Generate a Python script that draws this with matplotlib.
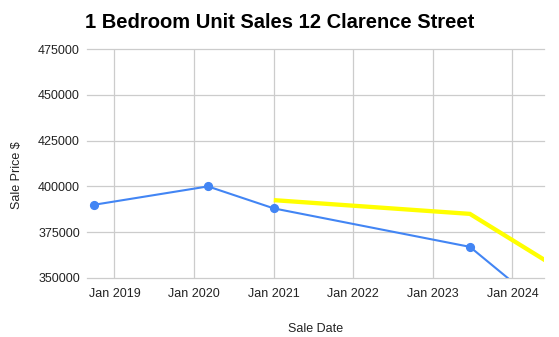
import matplotlib
matplotlib.use('Agg')
import matplotlib.pyplot as plt
import matplotlib.dates as mdates
import numpy as np

plt.rcParams.update({
    'font.family': ['Liberation Sans', 'DejaVu Sans'],
    'font.size': 9,
})

# sales (blue line with markers)
sale_dates = ['2018-10-01', '2020-03-05', '2021-01-01', '2023-06-20', '2024-04-01']
sale_prices = [390000, 400000, 388000, 367000, 339000]

# trend (yellow line)
trend_dates = ['2021-01-01', '2023-06-20', '2024-06-15']
trend_prices = [392500, 385000, 358500]

year_ticks = ['2019-01-01', '2020-01-01', '2021-01-01', '2022-01-01', '2023-01-01', '2024-01-01']
y_ticks = [350000, 375000, 400000, 425000, 450000, 475000]

sale_dates = np.array(sale_dates, dtype='datetime64[D]')
trend_dates = np.array(trend_dates, dtype='datetime64[D]')
year_ticks = np.array(year_ticks, dtype='datetime64[D]')

fig = plt.figure(figsize=(5.59, 3.37), dpi=100)
ax = fig.add_axes([87 / 559, 59 / 337, 457 / 559, 229 / 337])

ax.plot(trend_dates, trend_prices, color='#ffff00', linewidth=3.1,
        solid_capstyle='butt', solid_joinstyle='miter', zorder=3)
ax.plot(sale_dates, sale_prices, color='#4285f4', linewidth=1.5,
        marker='o', markersize=5.6, zorder=4)

ax.set_xlim(np.datetime64('2018-08-28'), np.datetime64('2024-05-25'))
ax.set_ylim(350000, 475000)
ax.set_xticks(year_ticks)
ax.xaxis.set_major_formatter(mdates.DateFormatter('Jan %Y'))
ax.set_yticks(y_ticks)

ax.grid(True, color='#cccccc', linewidth=0.9)
ax.set_axisbelow(True)
for gl in ax.get_ygridlines():
    gl.set_clip_on(False)
for s in ax.spines.values():
    s.set_visible(False)
ax.tick_params(length=0, colors='#222222', labelsize=9)
ax.tick_params(axis='x', pad=7)
ax.tick_params(axis='y', pad=5)

ax.set_xlabel('Sale Date', fontsize=9, color='#222222', labelpad=17)
fig.text(17 / 559, 1 - 175 / 337, 'Sale Price $', rotation=90,
         fontsize=9, color='#222222', ha='center', va='center')

fig.text(85 / 559, 1 - 22 / 337, '1 Bedroom Unit Sales 12 Clarence Street',
         fontsize=14.5, fontweight='bold', ha='left', va='center', color='#000000')

fig.savefig('out.png', dpi=100)
